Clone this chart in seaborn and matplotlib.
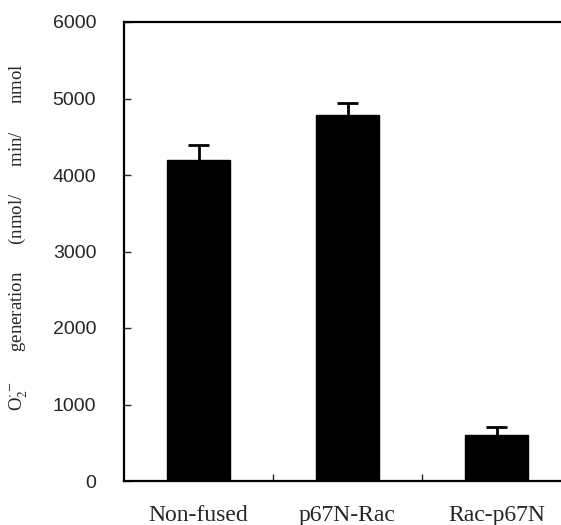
import numpy as np
import pandas as pd
import seaborn as sns
import matplotlib
matplotlib.use('Agg')
import matplotlib.pyplot as plt
from matplotlib.ticker import FixedLocator

# values
groups = ['Non-fused', 'p67N-Rac', 'Rac-p67N']
o2_rate = [4190, 4790, 605]
o2_err = [200, 150, 100]

sns.set_style('ticks')
plt.rcParams['mathtext.fontset'] = 'stix'

df = pd.DataFrame({'group': groups, 'rate': o2_rate})

fig = plt.figure(figsize=(5.61, 5.25), dpi=100)
ax = fig.add_axes([124 / 561, 1 - 481 / 525, 447 / 561, 459 / 525])

sns.barplot(data=df, x='group', y='rate', color='black', width=0.42,
            edgecolor='black', saturation=1, ax=ax)

# upper-only error bars
xpos = np.arange(len(groups))
tops = np.array(o2_rate) + np.array(o2_err)
ax.vlines(xpos, o2_rate, tops, color='black', lw=2)
ax.hlines(tops, xpos - 0.07, xpos + 0.07, color='black', lw=2)

ax.set_xlim(-0.5, 2.5)
ax.set_ylim(0, 6000)
ax.set_yticks(range(0, 6001, 1000))
ax.xaxis.set_minor_locator(FixedLocator([0.5, 1.5]))
ax.tick_params(axis='x', which='major', length=0, pad=17)
ax.tick_params(axis='x', which='minor', direction='in', length=5, width=1)
ax.tick_params(axis='y', direction='in', length=5, width=1, pad=20)

for lab in ax.get_xticklabels():
    lab.set_fontfamily('Liberation Serif')
    lab.set_fontsize(17)
for lab in ax.get_yticklabels():
    lab.set_fontfamily('Liberation Sans')
    lab.set_fontsize(14)

for side in ['left', 'top', 'bottom', 'right']:
    ax.spines[side].set_linewidth(1.6)
    ax.spines[side].set_color('black')

ax.set_xlabel('')
ax.set_ylabel(r'O$_2^{\cdot-}$      generation      (nmol/      min/      nmol',
              fontfamily='Liberation Serif', fontsize=13.5)
ax.yaxis.set_label_coords(-0.21, 0.53)

fig.savefig('out.png', dpi=100)
